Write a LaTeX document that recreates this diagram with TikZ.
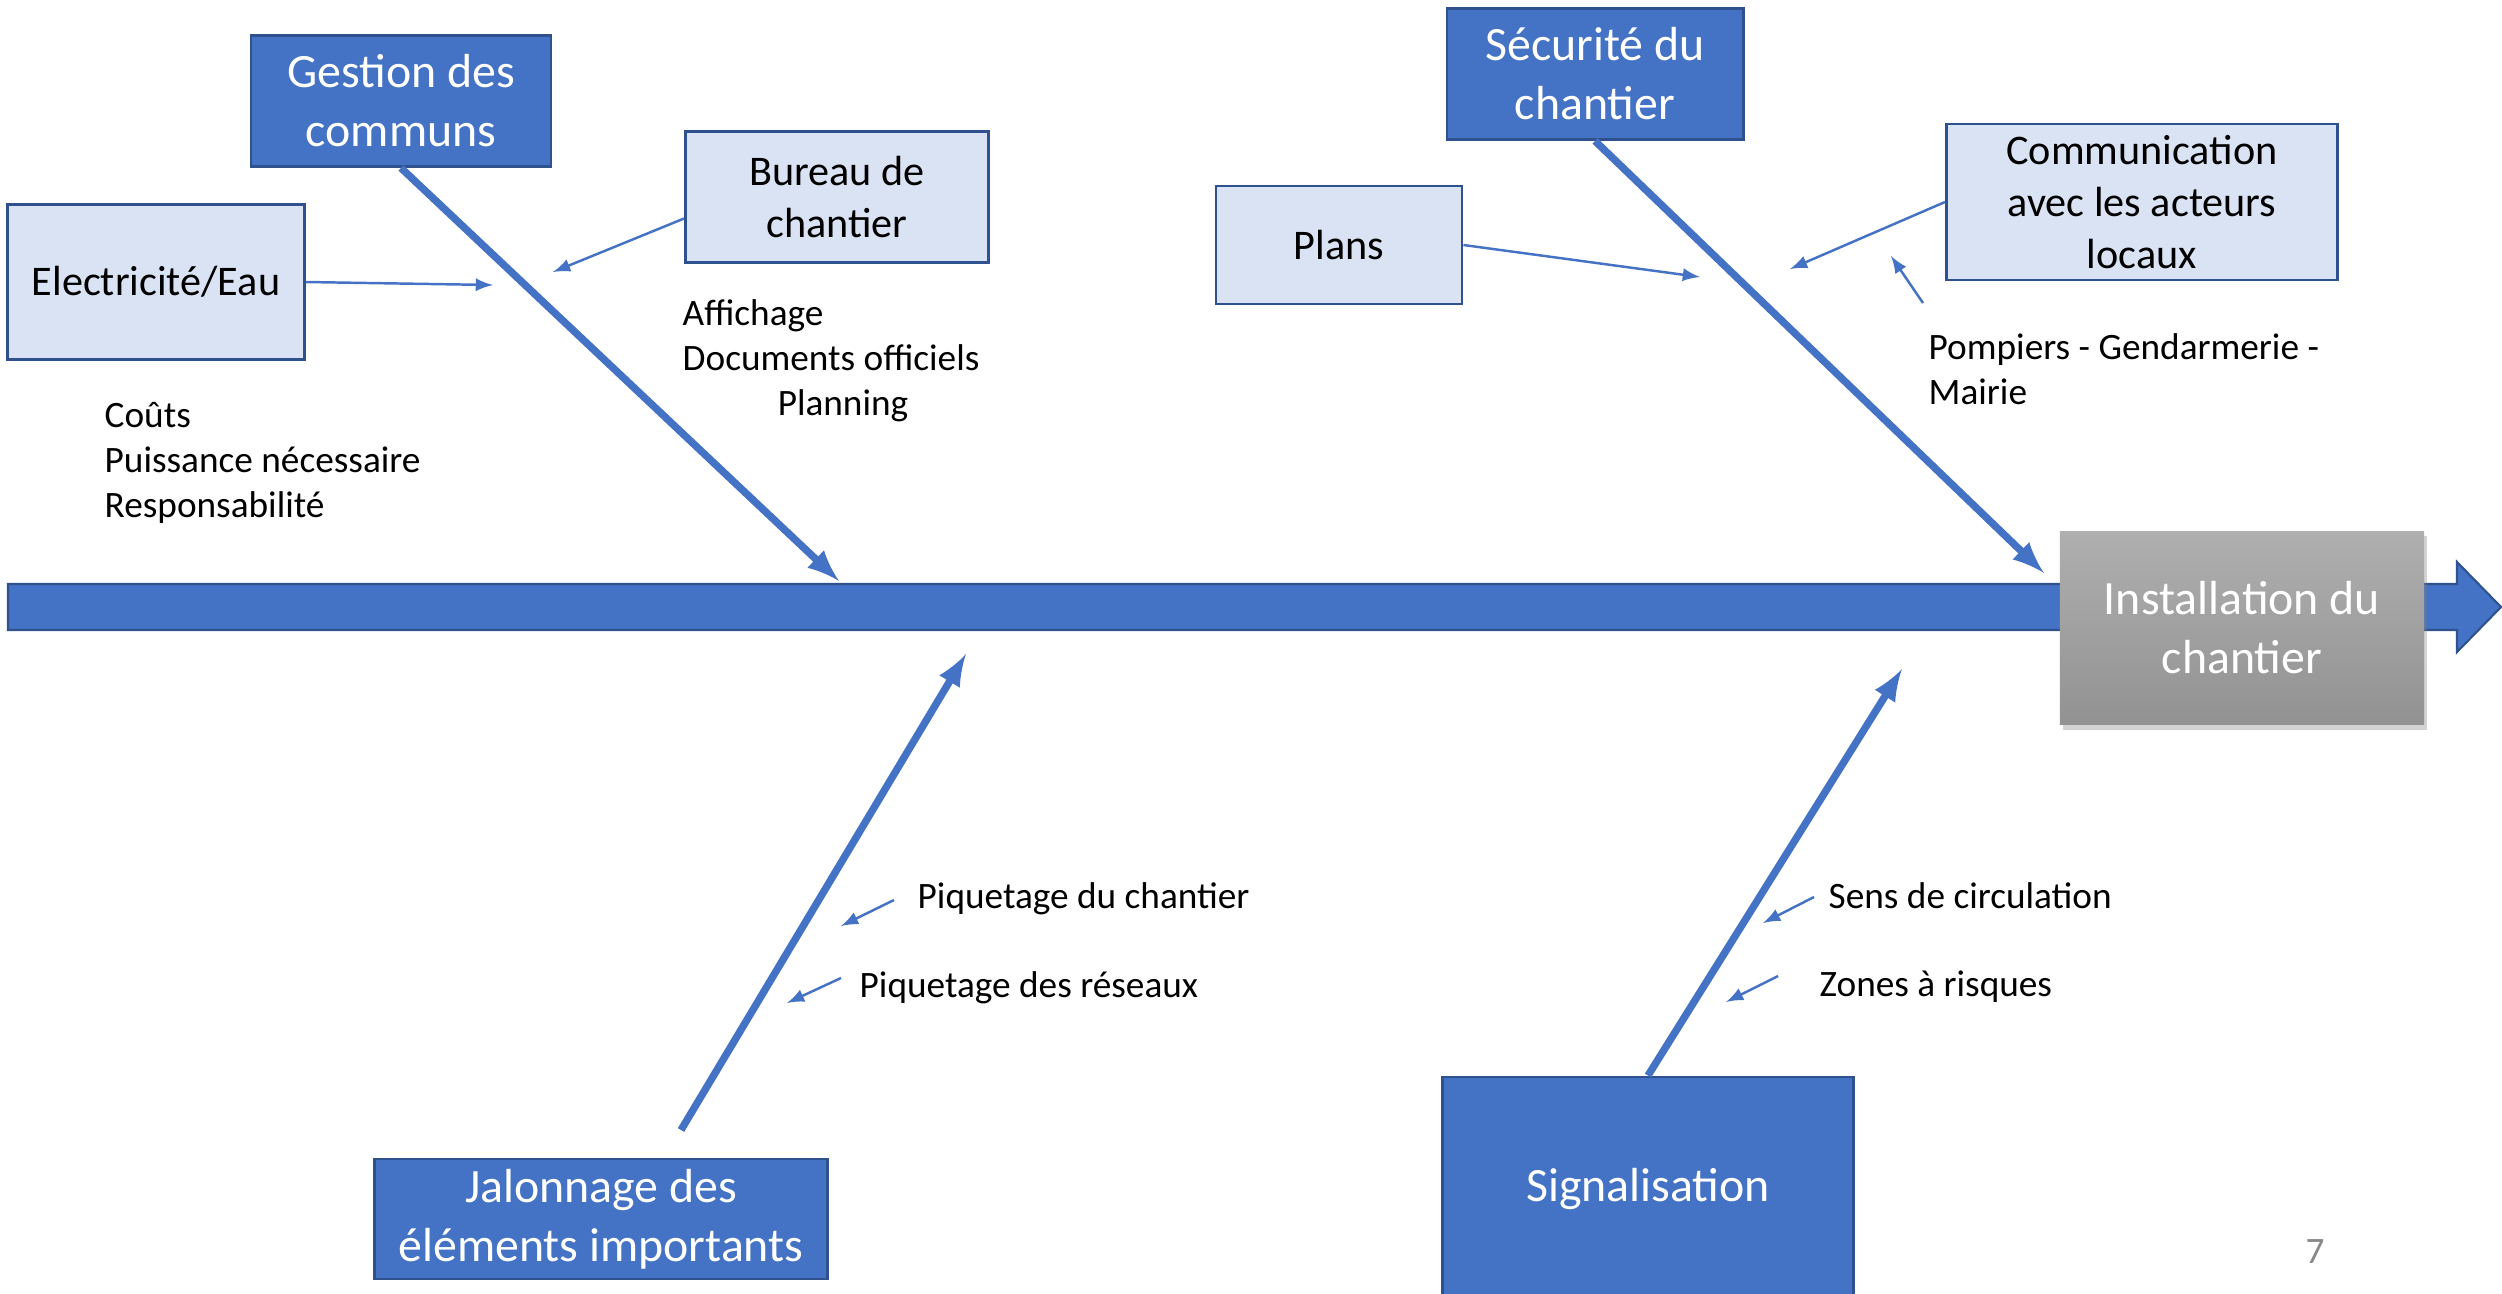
\documentclass[tikz,border=0pt]{standalone}
\usepackage{fontspec}
\setmainfont{Carlito}
\usepackage{tikz}
\usetikzlibrary{arrows,shapes,shadows}
\definecolor{boneblue}{HTML}{4472C4}
\definecolor{edgeblue}{HTML}{2F528F}
\definecolor{paleblue}{HTML}{DAE3F3}
\definecolor{topgray}{HTML}{AFAFAF}
\definecolor{lowgray}{HTML}{929292}
\definecolor{pagegray}{HTML}{898989}

\begin{document}
\begin{tikzpicture}[x=0.01cm, y=-0.01cm, main box/.style={draw=edgeblue, line width=0.8pt, fill=boneblue, text=white, align=center, inner sep=0, font=\fontsize{13.6}{16.8}\selectfont}, side box/.style={draw=edgeblue, line width=0.8pt, fill=paleblue, align=center, inner sep=0, font=\fontsize{12}{14.9}\selectfont}, note/.style={anchor=west, align=left, inner sep=0, font=\fontsize{10.6}{12.8}\selectfont}, bone/.style={-latex, boneblue, line width=2.1pt}, twig/.style={-latex, boneblue, line width=0.7pt}]
\useasboundingbox (0,0) rectangle (2502,1293);
% spine
\filldraw[fill=boneblue, draw=edgeblue, line width=0.6pt] (8,584) -- (2457,584) -- (2457,562) -- (2501,607) -- (2457,652) -- (2457,630) -- (8,630) -- cycle;
\node[minimum width=3.64cm, minimum height=1.93cm, top color=topgray, bottom color=lowgray, text=white, align=center, inner sep=0, font=\fontsize{13.6}{16.8}\selectfont, drop shadow={opacity=0.35, shadow xshift=0.03cm, shadow yshift=-0.05cm}] (install) at (2242,628) {Installation du\\chantier};
% causes
\node[main box, minimum width=3cm, minimum height=1.31cm] (gestion) at (401,101) {Gestion des\\communs};
\node[main box, minimum width=2.96cm, minimum height=1.31cm] (securite) at (1595,74) {Sécurité du\\chantier};
\node[main box, minimum width=4.52cm, minimum height=1.2cm] (jalon) at (601,1219) {Jalonnage des\\éléments importants};
\node[main box, minimum width=4.11cm, minimum height=2.24cm] (signal) at (1648,1189) {Signalisation};
\node[side box, minimum width=2.97cm, minimum height=1.55cm] (elec) at (156,282) {Electricité/Eau};
\node[side box, minimum width=3.03cm, minimum height=1.31cm] (bureau) at (837,197) {Bureau de\\chantier};
\node[side box, minimum width=2.46cm, minimum height=1.18cm] (plans) at (1339,245) {Plans};
\node[side box, minimum width=3.91cm, minimum height=1.56cm] (comm) at (2142,202) {Communication\\avec les acteurs\\locaux};
% notes
\node[note] (couts) at (104,463) {Coûts\\Puissance nécessaire\\Responsabilité};
\node[note] (affich) at (682,361) {Affichage\\Documents officiels\\\hspace*{0.95cm}Planning};
\node[note] (pompiers) at (1928,369) {Pompiers - Gendarmerie -\\Mairie};
\node[note] (piqchan) at (917,899) {Piquetage du chantier};
\node[note] (piqres) at (859,988) {Piquetage des réseaux};
\node[note] (sens) at (1828,896) {Sens de circulation};
\node[note] (zones) at (1819,987) {Zones à risques};
\node[note, text=pagegray] (page) at (2305,1252) {7};
% arrow ends
\coordinate (gestion end) at (839,581);
\coordinate (securite end) at (2044,573);
\coordinate (jalon start) at (681,1130);
\coordinate (jalon end) at (966,654);
\coordinate (signal end) at (1902,669);
\coordinate (elec end) at (493,285);
\coordinate (bureau end) at (553,272);
\coordinate (plans end) at (1700,277);
\coordinate (comm end) at (1790,269);
\coordinate (pomp start) at (1923,303);
\coordinate (pomp end) at (1891,256);
\coordinate (piqchan start) at (894,900);
\coordinate (piqchan end) at (841,926);
\coordinate (piqres start) at (841,978);
\coordinate (piqres end) at (787,1003);
\coordinate (sens start) at (1814,897);
\coordinate (sens end) at (1763,923);
\coordinate (zones start) at (1778,976);
\coordinate (zones end) at (1726,1002);
\path
(gestion.south) edge[bone] (gestion end)
(securite.south) edge[bone] (securite end)
(jalon start) edge[bone] (jalon end)
(signal.north) edge[bone] (signal end)
(elec.east) edge[twig] (elec end)
(bureau.188) edge[twig] (bureau end)
(plans.east) edge[twig] (plans end)
(comm.west) edge[twig] (comm end)
(pomp start) edge[twig] (pomp end)
(piqchan start) edge[twig] (piqchan end)
(piqres start) edge[twig] (piqres end)
(sens start) edge[twig] (sens end)
(zones start) edge[twig] (zones end);
\end{tikzpicture}
\end{document}
